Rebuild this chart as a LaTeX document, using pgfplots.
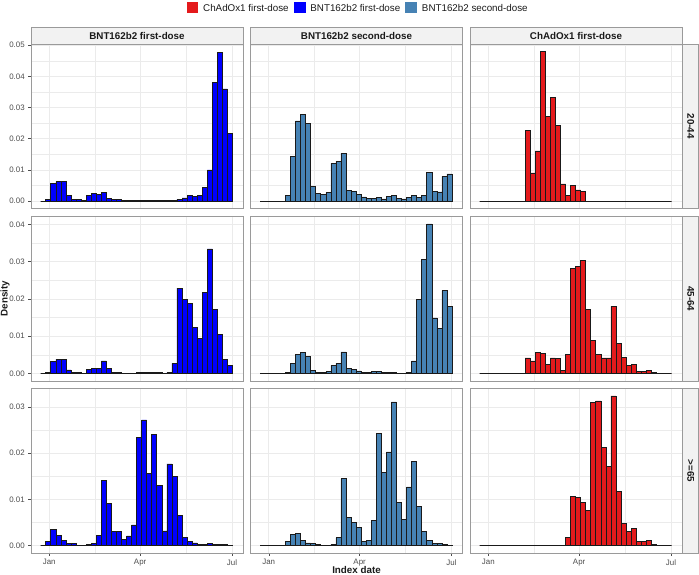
\documentclass[border=0pt]{standalone}
\usepackage{fontspec}
\setmainfont{Liberation Sans}
\usepackage{pgfplots}
\usepackage{pgfplotstable}
\pgfplotsset{compat=1.18}
\usetikzlibrary{calc}
\definecolor{cRed}{HTML}{E41A1C}
\definecolor{cBlue}{HTML}{0000FF}
\definecolor{cSteel}{HTML}{4682B4}
\definecolor{gridc}{HTML}{EBEBEB}
\definecolor{framec}{HTML}{9A9A9A}
\definecolor{stripc}{HTML}{F2F2F2}
\definecolor{tickc}{HTML}{4D4D4D}
\definecolor{barc}{HTML}{1A1A1A}

% age 20-44
\pgfplotstableread{
x      bnta    bntb    chad
-8.5   0       0       0
-3.5   0.0004  0       0
1.5    0.0056  0       0
6.5    0.0062  0       0
11.5   0.0062  0       0
16.5   0.0017  0.0018  0
21.5   0.0006  0.0144  0
26.5   0.0004  0.0257  0
31.5   0.0002  0.0278  0
36.5   0.0019  0.0248  0.0227
41.5   0.0024  0.0046  0.0090
46.5   0.0020  0.0024  0.0161
51.5   0.0027  0.0021  0.0480
56.5   0.0009  0.0027  0.0272
61.5   0.0004  0.0121  0.0333
66.5   0.0004  0.0127  0.0243
71.5   0.0001  0.0154  0.0055
76.5   0.0001  0.0033  0.0018
81.5   0.0001  0.0030  0.0051
86.5   0.0001  0.0021  0.0036
91.5   0.0002  0.0013  0.0030
96.5   0.0002  0.0009  0
101.5  0.0002  0.0009  0
106.5  0.0002  0.0012  0
111.5  0.0001  0.0007  0
116.5  0.0002  0.0014  0
121.5  0.0003  0.0017  0
126.5  0.0005  0.0009  0
131.5  0.0010  0.0007  0
136.5  0.0017  0.0012  0
141.5  0.0015  0.0018  0
146.5  0.0018  0.0012  0
151.5  0.0044  0.0019  0
156.5  0.0100  0.0091  0
161.5  0.0380  0.0031  0
166.5  0.0478  0.0029  0
171.5  0.0360  0.0079  0
176.5  0.0216  0.0087  0
181.5  0       0       0
}\tabA

% age 45-64
\pgfplotstableread{
x      bnta    bntb    chad
-8.5   0       0       0
-3.5   0.0003  0       0
1.5    0.0033  0       0
6.5    0.0038  0       0
11.5   0.0037  0       0
16.5   0.0010  0.0004  0
21.5   0.0004  0.0028  0
26.5   0.0003  0.0052  0
31.5   0.0001  0.0057  0
36.5   0.0011  0.0047  0.0042
41.5   0.0013  0.0009  0.0034
46.5   0.0014  0.0004  0.0057
51.5   0.0034  0.0004  0.0053
56.5   0.0013  0.0005  0.0024
61.5   0.0004  0.0022  0.0042
66.5   0.0004  0.0027  0.0040
71.5   0.0001  0.0058  0.0009
76.5   0.0001  0.0014  0.0052
81.5   0.0001  0.0012  0.0281
86.5   0.0003  0.0007  0.0287
91.5   0.0003  0.0003  0.0303
96.5   0.0002  0.0002  0.0171
101.5  0.0002  0.0005  0.0089
106.5  0.0002  0.0005  0.0051
111.5  0.0001  0.0002  0.0042
116.5  0.0003  0.0004  0.0042
121.5  0.0027  0.0004  0.0180
126.5  0.0229  0.0001  0.0080
131.5  0.0198  0.0001  0.0043
136.5  0.0189  0.0003  0.0021
141.5  0.0124  0.0034  0.0024
146.5  0.0095  0.0198  0.0006
151.5  0.0217  0.0305  0.0006
156.5  0.0334  0.0401  0.0009
161.5  0.0172  0.0149  0.0002
166.5  0.0106  0.0121  0.0001
171.5  0.0037  0.0222  0
176.5  0.0022  0.0180  0
181.5  0       0       0
}\tabB

% age >=65
\pgfplotstableread{
x      bnta    bntb    chad
-8.5   0       0       0
-3.5   0.0009  0       0
1.5    0.0035  0       0
6.5    0.0022  0       0
11.5   0.0012  0.0001  0
16.5   0.0005  0.0009  0
21.5   0.0004  0.0024  0
26.5   0.0001  0.0027  0
31.5   0.0001  0.0012  0
36.5   0.0002  0.0006  0
41.5   0.0004  0.0004  0
46.5   0.0022  0.0002  0
51.5   0.0141  0.0001  0
56.5   0.0091  0.0001  0
61.5   0.0030  0.0003  0
66.5   0.0030  0.0017  0
71.5   0.0014  0.0145  0
76.5   0.0021  0.0061  0.0017
81.5   0.0045  0.0050  0.0106
86.5   0.0235  0.0040  0.0104
91.5   0.0272  0.0009  0.0093
96.5   0.0156  0.0012  0.0077
101.5  0.0241  0.0054  0.0310
106.5  0.0130  0.0242  0.0313
111.5  0.0032  0.0158  0.0213
116.5  0.0177  0.0203  0.0171
121.5  0.0149  0.0311  0.0324
126.5  0.0066  0.0094  0.0117
131.5  0.0018  0.0056  0.0048
136.5  0.0009  0.0127  0.0031
141.5  0.0006  0.0182  0.0038
146.5  0.0003  0.0084  0.0009
151.5  0.0003  0.0031  0.0009
156.5  0.0004  0.0011  0.0011
161.5  0.0002  0.0004  0.0002
166.5  0.0003  0.0004  0.0001
171.5  0.0002  0.0002  0
176.5  0.0001  0.0001  0
181.5  0       0       0
}\tabC

\pgfplotsset{
  panel/.style={
    scale only axis, width=212pt, height=164.5pt, anchor=north west,
    xmin=-18.1, xmax=191.9,
    xtick={0,90,181}, xticklabels={Jan,Apr,Jul},
    minor xtick={45,135.5},
    grid=both,
    major grid style={gridc, line width=0.6pt},
    minor grid style={gridc, line width=0.3pt},
    axis line style={framec, line width=0.8pt},
    tick align=outside,
    major tick length=2.8pt,
    minor tick length=0pt,
    xtick pos=bottom, ytick pos=left,
    every tick/.append style={tickc, line width=0.5pt},
    scaled y ticks=false,
    tick label style={font=\fontsize{7.9}{9}\selectfont, text=tickc},
    yticklabel style={/pgf/number format/.cd, fixed, fixed zerofill, precision=2, assume math mode=true},
  },
  noyt/.style={yticklabels={}, ytick style={draw=none}},
  noxt/.style={xticklabels={}, xtick style={draw=none}},
  rowA/.style={ymin=-0.0024, ymax=0.0504, ytick={0,0.01,0.02,0.03,0.04,0.05}, minor ytick={0.005,0.015,0.025,0.035,0.045}},
  rowB/.style={ymin=-0.0020, ymax=0.0421, ytick={0,0.01,0.02,0.03,0.04}, minor ytick={0.005,0.015,0.025,0.035}},
  rowC/.style={ymin=-0.0016, ymax=0.0340, ytick={0,0.01,0.02,0.03}, minor ytick={0.005,0.015,0.025}},
  hist/.style={ybar interval, draw=barc, line width=0.6pt},
}

\begin{document}
\begin{tikzpicture}
\useasboundingbox (0,0) rectangle (699pt,-575pt);

% ---- row 1
\begin{axis}[panel, rowA, noxt, at={(31pt,-44pt)}, name=p11]
\addplot[hist, fill=cBlue] table[x=x, y=bnta]{\tabA};
\end{axis}
\begin{axis}[panel, rowA, noxt, noyt, at={(250.5pt,-44pt)}, name=p12]
\addplot[hist, fill=cSteel] table[x=x, y=bntb]{\tabA};
\end{axis}
\begin{axis}[panel, rowA, noxt, noyt, at={(470pt,-44pt)}, name=p13]
\addplot[hist, fill=cRed] table[x=x, y=chad]{\tabA};
\end{axis}

% ---- row 2
\begin{axis}[panel, rowB, noxt, at={(31pt,-216.5pt)}, name=p21]
\addplot[hist, fill=cBlue] table[x=x, y=bnta]{\tabB};
\end{axis}
\begin{axis}[panel, rowB, noxt, noyt, at={(250.5pt,-216.5pt)}, name=p22]
\addplot[hist, fill=cSteel] table[x=x, y=bntb]{\tabB};
\end{axis}
\begin{axis}[panel, rowB, noxt, noyt, at={(470pt,-216.5pt)}, name=p23]
\addplot[hist, fill=cRed] table[x=x, y=chad]{\tabB};
\end{axis}

% ---- row 3
\begin{axis}[panel, rowC, at={(31pt,-388.5pt)}, name=p31]
\addplot[hist, fill=cBlue] table[x=x, y=bnta]{\tabC};
\end{axis}
\begin{axis}[panel, rowC, noyt, at={(250.5pt,-388.5pt)}, name=p32]
\addplot[hist, fill=cSteel] table[x=x, y=bntb]{\tabC};
\end{axis}
\begin{axis}[panel, rowC, noyt, at={(470pt,-388.5pt)}, name=p33]
\addplot[hist, fill=cRed] table[x=x, y=chad]{\tabC};
\end{axis}

% ---- strips
\tikzset{striptxt/.style={font=\bfseries\fontsize{9.8}{11}\selectfont, text=barc}}
\foreach \n/\t in {p11/{BNT162b2 first-dose}, p12/{BNT162b2 second-dose}, p13/{ChAdOx1 first-dose}}{
  \draw[framec, fill=stripc, line width=0.8pt] (\n.north west) rectangle ([yshift=16.5pt]\n.north east);
  \node[striptxt] at ([yshift=8.25pt]\n.north) {\t};
}
\foreach \n/\t in {p13/{20-44}, p23/{45-64}, p33/{>=65}}{
  \draw[framec, fill=stripc, line width=0.8pt] ([xshift=0.8pt]\n.north east) rectangle ([xshift=16.6pt]\n.south east);
  \node[striptxt, rotate=-90] at ([xshift=8.7pt]\n.east) {\t};
}

% ---- axis titles
\node[font=\bfseries\fontsize{9.8}{11}\selectfont, text=barc, rotate=90, inner sep=0pt] at (5pt,-298.5pt) {Density};
\node[font=\bfseries\fontsize{9.8}{11}\selectfont, text=barc, inner sep=0pt] at (356.5pt,-569.5pt) {Index date};

% ---- legend
\tikzset{legtxt/.style={font=\fontsize{9.8}{11}\selectfont, text=barc, anchor=west, inner sep=0pt}}
\fill[cRed] (186.7pt,-1.7pt) rectangle (198.3pt,-13.3pt);
\node[legtxt] (t1) at (203pt,-7.5pt) {ChAdOx1 first-dose};
\path (t1.east) ++(5pt,0) coordinate (k2);
\fill[cBlue] ($(k2)+(0,5.8pt)$) rectangle ++(11.6pt,-11.6pt);
\node[legtxt] (t2) at ($(k2)+(16.3pt,0)$) {BNT162b2 first-dose};
\path (t2.east) ++(5pt,0) coordinate (k3);
\fill[cSteel] ($(k3)+(0,5.8pt)$) rectangle ++(11.6pt,-11.6pt);
\node[legtxt] (t3) at ($(k3)+(16.3pt,0)$) {BNT162b2 second-dose};
\end{tikzpicture}
\end{document}
